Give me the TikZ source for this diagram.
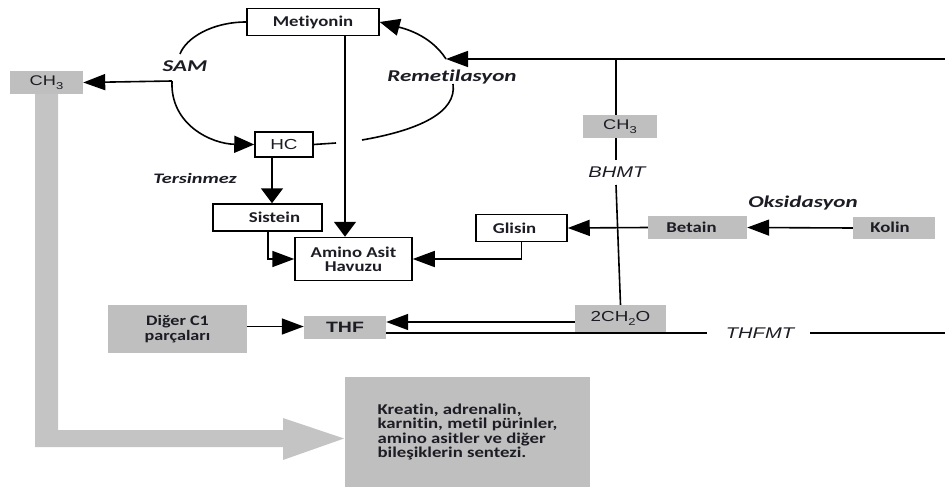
\documentclass[tikz,border=0pt]{standalone}
\usepackage{fontspec}
\setmainfont[FakeStretch=1.25, Ligatures=NoCommon]{Carlito}
\newfontfamily\labf[FakeStretch=1.4, Ligatures=NoCommon]{Carlito}
\newfontfamily\arialf[FakeStretch=1.3]{Liberation Sans}
\usetikzlibrary{arrows.meta}
\definecolor{boxgray}{HTML}{BFBFBF}
\definecolor{arrgray}{HTML}{C4C4C4}
\definecolor{txt}{HTML}{1C1C24}
\newcommand\sbs[1]{\raisebox{-0.28em}{\fontsize{10}{10}\selectfont #1}}
\begin{document}
\begin{tikzpicture}[x=1pt,y=-1pt,
  line/.style={line width=1.6pt, draw=black},
  harr/.style={line, -{Triangle[length=22pt,width=16pt]}},
  varr/.style={line, -{Triangle[length=15pt,width=22pt]}},
  carr/.style={line, -{Triangle[length=20pt,width=17pt]}},
  wbox/.style={draw=black, line width=1.5pt, fill=white, inner sep=0pt, text=txt,
    font=\fontsize{15}{14}\selectfont\bfseries, align=center},
  gbox/.style={fill=boxgray, inner sep=0pt, text=txt,
    font=\fontsize{15}{15}\selectfont\bfseries, align=center},
  abox/.style={fill=boxgray, inner sep=0pt, text=txt,
    font=\arialf\fontsize{14}{15}\selectfont},
  lab/.style={text=txt, inner sep=0pt, font=\labf\fontsize{16.5}{18}\selectfont\bfseries\itshape},
  alab/.style={text=txt, inner sep=0pt, font=\arialf\fontsize{15.5}{16}\selectfont\itshape}
]
\useasboundingbox (0,0) rectangle (945,492);

% big grey L-shaped arrow
\fill[arrgray] (35,94) -- (58,94) -- (58,430) -- (283,430) -- (283,418) -- (344,438.5)
  -- (283,460) -- (283,447) -- (35,447) -- cycle;

% nodes
\node[wbox, minimum width=132pt, minimum height=27pt] (Met) at (313,22) {Metiyonin};
\node[abox, minimum width=73pt, minimum height=23pt] (CHL) at (46.5,82.5) {CH\sbs{3}\hspace{6pt}};
\node[wbox, minimum width=58pt, minimum height=25pt, font=\arialf\fontsize{14.5}{15}\selectfont] (HC) at (284,144.5) {HC};
\node[wbox, minimum width=109pt, minimum height=27pt] (Sis) at (267.5,217.5) {\hspace{14pt}Sistein};
\node[wbox, minimum width=117pt, minimum height=43pt] (Ami) at (353.5,259) {Amino Asit\\Havuzu};
\node[wbox, minimum width=91pt, minimum height=27pt] (Gli) at (521.5,228) {Glisin\hspace{14pt}};
\node[gbox, minimum width=99pt, minimum height=23pt] (Bet) at (697.5,227.5) {Betain\hspace{12pt}};
\node[gbox, minimum width=82pt, minimum height=22pt] (Kol) at (894,228) {\raisebox{1.5pt}{Kolin}\hspace{8pt}};
\node[abox, minimum width=74pt, minimum height=23pt] (CHR) at (620,126.5) {CH\sbs{3}};
\node[abox, minimum width=91pt, minimum height=27pt, font=\arialf\fontsize{14.5}{15}\selectfont] (CHO) at (620.5,318.5) {2CH\sbs{2}O};
\node[abox, minimum width=82pt, minimum height=23pt, font=\arialf\fontsize{15}{15}\selectfont\bfseries] (THF) at (345,327.5) {THF};
\node[gbox, minimum width=139pt, minimum height=48pt, font=\fontsize{14.5}{15}\selectfont\bfseries] (Dig) at (177.5,329) {Diğer C1\\parçaları};
\node[gbox, minimum width=245pt, minimum height=110pt, align=left,
  font=\fontsize{15}{14.5}\selectfont\bfseries] (Kre) at (467.5,432)
  {Kreatin, adrenalin,\\karnitin, metil pürinler,\\amino asitler ve diğer\\bileşiklerin sentezi.};

% labels
\node[lab] (SAM) at (185,66) {SAM};
\node[lab] (Rem) at (452,77) {Remetilasyon};
\node[lab, font=\labf\fontsize{14.5}{16}\selectfont\bfseries\itshape] (Ter) at (195,178) {Tersinmez};
\node[lab] (Oks) at (803,203) {Oksidasyon};
\node[alab] (BHMT) at (617,172) {BHMT};
\node[alab] (THFMT) at (760,333) {THFMT};

% coordinates
\coordinate (samS) at (172,81);
\coordinate (samT) at (180,54);
\coordinate (hcE) at (336,143);
\coordinate (raB) at (362,140);
\coordinate (raM) at (453,84);
\coordinate (raT) at (446,59);
\coordinate (rE) at (945,59);
\coordinate (vTop) at (616,59);
\coordinate (bhU) at (616,160);
\coordinate (bhD) at (616,185);
\coordinate (mvx) at (345,0);
\coordinate (hx) at (272,0);
\coordinate (sx) at (268,0);
\coordinate (t1) at (0,322);
\coordinate (t2) at (0,333);
\coordinate (tm1) at (707,333);
\coordinate (tm2) at (810,333);
\coordinate (tR) at (945,333);
\coordinate (d1) at (0,326.5);

% methionine cycle
\draw[line] (Met.west) .. controls (212,22) and (186,38) .. (samT);
\draw[carr] (samS) .. controls (170,125) and (212,144) .. (HC.west);
\draw[harr] (samS) -- (CHL.east);
\draw[line] (HC.east) -- (hcE);
\draw[line] (raB) .. controls (420,130) and (457,112) .. (raM);
\draw[carr] (raT) .. controls (430,34) and (402,28) .. (Met.east);
\draw[harr] (rE) -- (raT);

% right vertical (BHMT)
\draw[line] (vTop) -- (vTop |- CHR.north);
\draw[line] (vTop |- CHR.south) -- (bhU);
\draw[line] (bhD) -- (CHO.north);

% to amino acid pool
\draw[varr] (Met.south -| mvx) -- (Ami.north -| mvx);
\draw[varr] (HC.south -| hx) -- (Sis.north -| hx);
\draw[harr] (Sis.south -| sx) |- (Ami.west);
\draw[harr] (Gli.south) |- (Ami.east);
\draw[harr] (Bet.west) -- (Gli.east);
\draw[harr] (Kol.west) -- (Bet.east);

% THF lines
\draw[harr] (CHO.west |- t1) -- (THF.east |- t1);
\draw[line] (THF.east |- t2) -- (tm1);
\draw[line] (tm2) -- (tR);
\draw[harr] (Dig.east |- d1) -- (THF.west |- d1);
\end{tikzpicture}
\end{document}
